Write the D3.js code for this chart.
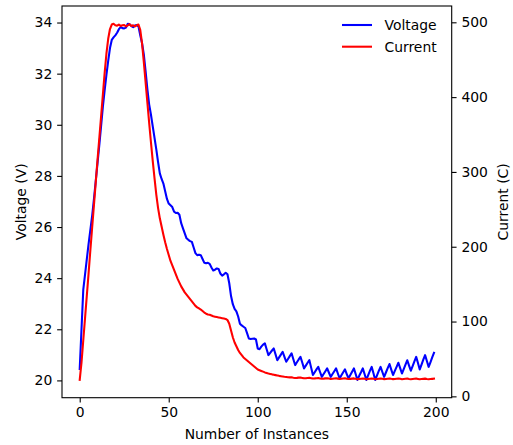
<!DOCTYPE html>
<html>
<head>
<meta charset="utf-8">
<script src="https://cdn.jsdelivr.net/npm/d3@7"></script>
<style>
  body { margin: 0; background: #fff; }
  svg { display: block; font-family: "DejaVu Sans", sans-serif; }
</style>
</head>
<body>
<svg id="chart" width="513" height="445"></svg>
<script>
// voltage readings, one per instance (0..199)
const voltage = [
  20.45, 22.0, 23.55, 24.15, 24.75, 25.35, 25.9, 26.45, 27.1, 27.8,
  28.5, 29.2, 29.95, 30.7, 31.35, 31.95, 32.5, 33.0, 33.32, 33.42,
  33.5, 33.6, 33.74, 33.82, 33.78, 33.77, 33.8, 33.95, 33.93, 33.86,
  33.82, 33.88, 33.9, 33.85, 33.5, 33.2, 32.75, 32.1, 31.4, 30.8,
  30.4, 29.95, 29.5, 29.05, 28.55, 28.1, 27.88, 27.7, 27.4, 27.1,
  26.92, 26.85, 26.78, 26.6, 26.55, 26.56, 26.48, 26.15, 25.95, 25.75,
  25.56, 25.5, 25.45, 25.42, 25.2, 24.98, 24.9, 24.92, 24.9, 24.75,
  24.6, 24.58, 24.6, 24.56, 24.42, 24.3, 24.33, 24.38, 24.36, 24.18,
  24.1, 24.15, 24.21, 24.15, 23.8, 23.3, 22.98, 22.8, 22.7, 22.5,
  22.22, 22.15, 22.1, 22.05, 21.85, 21.64, 21.62, 21.63, 21.64, 21.6,
  21.25, 21.22, 21.32, 21.4, 21.45, 21.22, 20.99, 21.08, 21.17, 21.25,
  21.02, 20.79, 20.9, 21.01, 21.12, 20.92, 20.73, 20.84, 20.95, 21.06,
  20.83, 20.6, 20.71, 20.82, 20.92, 20.7, 20.47, 20.58, 20.69, 20.79,
  20.5, 20.21, 20.32, 20.43, 20.53, 20.33, 20.14, 20.25, 20.36, 20.47,
  20.3, 20.14, 20.25, 20.36, 20.47, 20.27, 20.08, 20.2, 20.32, 20.43,
  20.25, 20.08, 20.21, 20.34, 20.47, 20.25, 20.02, 20.18, 20.32, 20.47,
  20.25, 20.02, 20.2, 20.37, 20.53, 20.28, 20.02, 20.2, 20.37, 20.53,
  20.33, 20.14, 20.31, 20.48, 20.64, 20.42, 20.21, 20.37, 20.53, 20.69,
  20.48, 20.27, 20.44, 20.62, 20.79, 20.58, 20.38, 20.56, 20.74, 20.92,
  20.68, 20.43, 20.62, 20.81, 20.99, 20.76, 20.53, 20.71, 20.9, 21.08
];

// current readings, one per instance (0..199)
const current = [
  22, 45, 75, 105, 135, 165, 196, 226, 256, 286,
  316, 345, 374, 403, 432, 458, 478, 491, 497, 498,
  496, 495.5, 497, 495, 496, 496.5, 494.5, 496, 497.5, 495,
  496, 494.5, 496, 497, 490, 472, 447, 420, 393, 366,
  340, 315, 292, 270, 252, 238, 227, 216, 206, 197,
  189, 181, 175, 169, 163, 157, 152, 147, 143, 139,
  136, 133, 130, 127, 124, 121, 119, 117.5, 116, 114,
  112, 110.5, 109.5, 109, 108, 107, 106.5, 106, 105.5, 105,
  104.5, 104, 103.5, 102, 97, 88, 79, 72, 67, 62,
  58, 55, 52, 50, 48, 46, 44, 42, 40, 38,
  36, 35, 34, 33, 32, 31.3, 30.6, 30, 29.4, 28.9,
  28.4, 27.9, 27.4, 27, 26.6, 26.2, 25.9, 25.6, 25.4, 25.6,
  25.0, 24.6, 24.7, 25.0, 25.1, 24.6, 24.1, 24.3, 24.6, 24.8,
  24.3, 23.8, 24.0, 24.3, 24.5, 24.0, 23.5, 23.7, 24.0, 24.3,
  23.8, 23.3, 23.6, 23.9, 24.2, 23.7, 23.2, 23.5, 23.8, 24.1,
  23.6, 23.1, 23.4, 23.7, 24.0, 23.5, 23.0, 23.3, 23.6, 23.9,
  23.4, 22.9, 23.2, 23.5, 23.8, 23.4, 22.9, 23.2, 23.5, 23.8,
  23.4, 23.0, 23.3, 23.6, 23.9, 23.4, 23.0, 23.3, 23.6, 23.9,
  23.4, 22.9, 23.2, 23.5, 23.8, 23.3, 22.9, 23.2, 23.5, 23.8,
  23.3, 22.8, 23.1, 23.4, 23.7, 23.2, 22.8, 23.1, 23.4, 23.7
];

const xTicks = [0, 50, 100, 150, 200];
const voltTicks = [20, 22, 24, 26, 28, 30, 32, 34];
const currTicks = [0, 100, 200, 300, 400, 500];
const seriesNames = ['Voltage', 'Current'];
const seriesColors = ['#0000ff', '#ff0000'];

const fontSize = 13.9;
const tickLen = 4.86;
const plotL = 62, plotR = 451.7, plotT = 6, plotB = 397.7;

// matplotlib-style 5% margin around the data
function padded(ext) {
  const r = ext[1] - ext[0];
  return [ext[0] - 0.05 * r, ext[1] + 0.05 * r];
}

const svg = d3.select('#chart');

const x = d3.scaleLinear()
  .domain(padded([0, voltage.length - 1]))
  .range([plotL, plotR]);
const yV = d3.scaleLinear()
  .domain(padded(d3.extent(voltage)))
  .range([plotB, plotT]);
const yC = d3.scaleLinear()
  .domain(padded(d3.extent(current)))
  .range([plotB, plotT]);

function styleAxis(g) {
  g.select('.domain').remove();
  g.selectAll('.tick line').attr('stroke', '#000').attr('stroke-width', 1.1);
  g.selectAll('.tick text')
    .attr('fill', '#000')
    .style('font-size', fontSize + 'px')
    .style('font-family', '"DejaVu Sans", sans-serif');
}

svg.append('g')
  .attr('transform', `translate(0,${plotB})`)
  .call(d3.axisBottom(x).tickValues(xTicks).tickSize(tickLen).tickPadding(4.86).tickFormat(d3.format('d')))
  .call(styleAxis);

svg.append('g')
  .attr('transform', `translate(${plotL},0)`)
  .call(d3.axisLeft(yV).tickValues(voltTicks).tickSize(tickLen).tickPadding(4.86).tickFormat(d3.format('d')))
  .call(styleAxis);

svg.append('g')
  .attr('transform', `translate(${plotR},0)`)
  .call(d3.axisRight(yC).tickValues(currTicks).tickSize(tickLen).tickPadding(4.86).tickFormat(d3.format('d')))
  .call(styleAxis);

const lineV = d3.line().x((d, i) => x(i)).y(d => yV(d));
const lineC = d3.line().x((d, i) => x(i)).y(d => yC(d));

svg.append('path')
  .datum(voltage)
  .attr('d', lineV)
  .attr('fill', 'none')
  .attr('stroke', seriesColors[0])
  .attr('stroke-width', 2.08)
  .attr('stroke-linejoin', 'round')
  .attr('stroke-linecap', 'square');

svg.append('path')
  .datum(current)
  .attr('d', lineC)
  .attr('fill', 'none')
  .attr('stroke', seriesColors[1])
  .attr('stroke-width', 2.08)
  .attr('stroke-linejoin', 'round')
  .attr('stroke-linecap', 'square');

// frame
svg.append('rect')
  .attr('x', plotL)
  .attr('y', plotT)
  .attr('width', plotR - plotL)
  .attr('height', plotB - plotT)
  .attr('fill', 'none')
  .attr('stroke', '#000')
  .attr('stroke-width', 1.1);

// axis labels
svg.append('text')
  .attr('x', (plotL + plotR) / 2)
  .attr('y', 439)
  .attr('text-anchor', 'middle')
  .style('font-size', fontSize + 'px')
  .text('Number of Instances');

svg.append('text')
  .attr('transform', `translate(21,${(plotT + plotB) / 2}) rotate(-90)`)
  .attr('text-anchor', 'middle')
  .attr('dominant-baseline', 'central')
  .style('font-size', fontSize + 'px')
  .text('Voltage (V)');

svg.append('text')
  .attr('transform', `translate(503,${(plotT + plotB) / 2}) rotate(-90)`)
  .attr('text-anchor', 'middle')
  .attr('dominant-baseline', 'central')
  .style('font-size', fontSize + 'px')
  .text('Current (C)');

// legend
const legend = svg.append('g')
  .selectAll('g')
  .data(seriesNames)
  .join('g')
  .attr('transform', (d, i) => `translate(342,${25 + i * 21.7})`);

legend.append('line')
  .attr('x1', 0)
  .attr('x2', 30)
  .attr('stroke', (d, i) => seriesColors[i])
  .attr('stroke-width', 2.08);

legend.append('text')
  .attr('x', 42.5)
  .attr('dominant-baseline', 'central')
  .style('font-size', fontSize + 'px')
  .text(d => d);
</script>
</body>
</html>
